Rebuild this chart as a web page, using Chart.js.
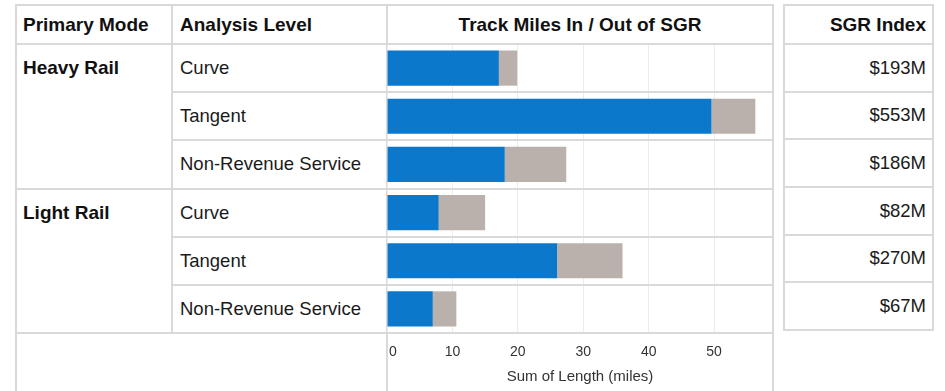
<!DOCTYPE html>
<html>
<head>
<meta charset="utf-8">
<script src="https://cdn.jsdelivr.net/npm/chart.js@4.4.1/dist/chart.umd.min.js"></script>
<style>
    body { margin: 0; background: #fff; font-family: "Liberation Sans", Arial, sans-serif; }
    #page { position: relative; width: 945px; height: 391px; overflow: hidden; }
    .ln { position: absolute; background: #d9d9d9; }
    .txt { position: absolute; display: flex; align-items: center; white-space: nowrap; font-size: 18.5px; color: #1a1a1a; }
    .hd { font-weight: bold; font-size: 19px; color: #111; }
    #barChart { position: absolute; left: 387px; top: 44px; z-index: 1; }
</style>
</head>
<body>
<div id="page">
    <canvas id="barChart" width="386" height="347"></canvas>
</div>
<script>
var modes = ['Heavy Rail', 'Light Rail'];
var levels = ['Curve', 'Tangent', 'Non-Revenue Service'];
var inSgr = [17.1, 49.6, 18.0, 7.9, 26.0, 7.0];
var outSgr = [2.8, 6.7, 9.4, 7.1, 10.0, 3.6];
var sgrIndex = ['$193M', '$553M', '$186M', '$82M', '$270M', '$67M'];
var headers = ['Primary Mode', 'Analysis Level', 'Track Miles In / Out of SGR', 'SGR Index'];
var axisTitle = 'Sum of Length (miles)';

var page = document.getElementById('page');
var top0 = 44;
var rowH = 289 / 6;
var sgrRowH = (330 - 44) / 6;

function line(x, y, w, h) {
    var d = document.createElement('div');
    d.className = 'ln';
    d.style.left = x + 'px';
    d.style.top = y + 'px';
    d.style.width = w + 'px';
    d.style.height = h + 'px';
    page.appendChild(d);
}

function text(str, x, y, w, h, cls, align) {
    var d = document.createElement('div');
    d.className = 'txt ' + (cls || '');
    d.textContent = str;
    d.style.left = x + 'px';
    d.style.top = y + 'px';
    d.style.width = w + 'px';
    d.style.height = h + 'px';
    d.style.justifyContent = align || 'flex-start';
    page.appendChild(d);
}

// frame of the main table
line(15, 4, 759, 2);
line(15, 43, 759, 2);
line(15, 4, 2, 400);
line(171, 4, 2, 330);
line(386, 4, 2, 400);
line(772, 4, 2, 400);

// sgr index panel
line(783, 4, 151, 2);
line(783, 43, 151, 2);
line(783, 4, 2, 327);
line(932, 4, 2, 327);

text(headers[0], 23, 5, 148, 39, 'hd');
text(headers[1], 180, 5, 200, 39, 'hd');
text(headers[2], 387, 5, 386, 39, 'hd', 'center');
text(headers[3], 785, 5, 141, 39, 'hd', 'flex-end');

var rowLabels = [];
for (var m = 0; m < modes.length; m++) {
    for (var l = 0; l < levels.length; l++) {
        var i = rowLabels.length;
        var y = top0 + i * rowH;
        rowLabels.push(levels[l]);
        if (l == 0) text(modes[m], 23, y, 148, rowH, 'hd');
        text(levels[l], 180, y, 205, rowH);
        text(sgrIndex[i], 785, top0 + i * sgrRowH, 141, sgrRowH, '', 'flex-end');

        var yb = top0 + (i + 1) * rowH;
        if (l == levels.length - 1) line(15, Math.round(yb) - 1, 373, 2);
        else line(171, Math.round(yb) - 1, 217, 2);
        line(783, Math.round(top0 + (i + 1) * sgrRowH) - 1, 151, 2);
    }
}

Chart.defaults.font.family = '"Liberation Sans", Arial, sans-serif';

var ctx = document.getElementById('barChart').getContext('2d');
new Chart(ctx, {
    type: 'bar',
    data: {
        labels: rowLabels,
        datasets: [
            {label: 'In SGR', data: inSgr, backgroundColor: '#0b78cb', borderWidth: 0},
            {label: 'Out of SGR', data: outSgr, backgroundColor: '#bab0ac', borderWidth: 0}
        ]
    },
    options: {
        indexAxis: 'y',
        responsive: false,
        animation: false,
        layout: {padding: 0, autoPadding: false},
        datasets: {bar: {categoryPercentage: 1, barPercentage: 0.73}},
        plugins: {legend: {display: false}, tooltip: {enabled: false}},
        scales: {
            x: {
                stacked: true,
                min: 0,
                max: 59,
                border: {display: false},
                grid: {color: '#ececec', lineWidth: 1, drawTicks: false},
                ticks: {
                    stepSize: 10,
                    includeBounds: false,
                    padding: 11,
                    color: '#333',
                    font: {size: 14},
                    callback: function(v) { return v == 0 ? '\u00a0\u00a0\u00a00' : v; }
                },
                title: {display: true, text: axisTitle, color: '#333', font: {size: 15}, padding: {top: 0, bottom: 5}},
                afterFit: function(scale) {
                    scale.height = 58;
                    scale.paddingLeft = 0;
                    scale.paddingRight = 0;
                }
            },
            y: {
                stacked: true,
                border: {display: false},
                grid: {offset: true, color: '#d9d9d9', lineWidth: 2, drawTicks: false},
                ticks: {display: false},
                afterFit: function(scale) {
                    scale.width = 0;
                    scale.paddingTop = 0;
                    scale.paddingBottom = 0;
                }
            }
        }
    }
});
</script>
</body>
</html>
